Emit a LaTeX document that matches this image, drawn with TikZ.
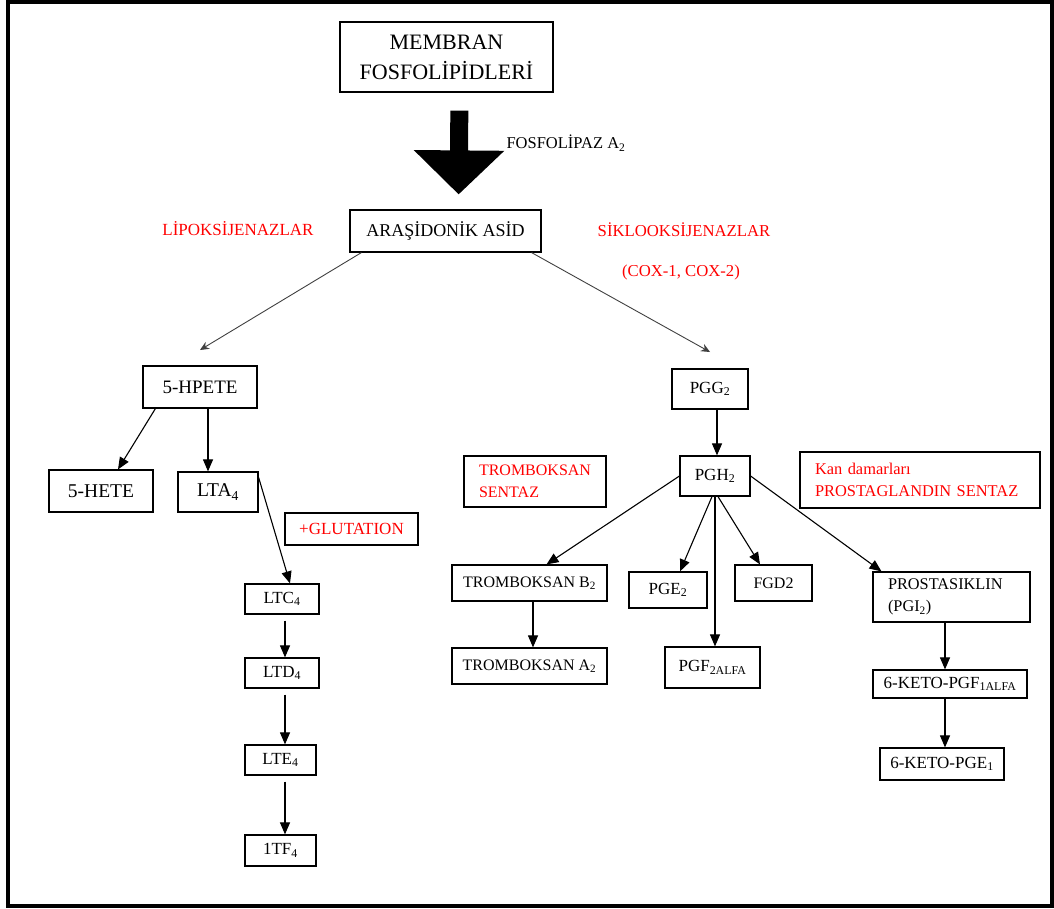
\documentclass[tikz,border=0pt]{standalone}
\usepackage{fontspec}
\setmainfont{Liberation Serif}
\usepackage{tikz}
\usetikzlibrary{arrows.meta}

\tikzset{
    box/.style={draw, line width=1.2pt, rectangle, inner sep=2pt, align=center},
    redbox/.style={box, text=red, align=left, inner xsep=15pt},
    redtext/.style={text=red, inner sep=0pt},
    path/.style={line width=1.1pt, -{Triangle[width=10pt,length=12pt]}},
    thinpath/.style={line width=0.9pt, draw=black!75, -{Stealth[width=8pt,length=9pt]}}
}

\newcommand{\fs}[2]{\fontsize{#1}{#2}\selectfont}

\begin{document}
\begin{tikzpicture}[x=1pt, y=-1pt]
\useasboundingbox (0,0) rectangle (1054,908);
\draw[line width=4pt] (8,2) rectangle (1052,906);

\node[box, minimum width=213pt, minimum height=70pt, font=\fs{22}{30}] (mem) at (446.5,57) {MEMBRAN\\FOSFOLİPİDLERİ};
\node[box, minimum width=191pt, minimum height=42pt, font=\fs{18}{22}] (ara) at (445.5,231) {ARAŞİDONİK ASİD};
\node[font=\fs{16.5}{20}, inner sep=0pt] (pla) at (566,143) {FOSFOLİPAZ A\textsubscript{2}};
\node[redtext, font=\fs{17}{20}] (lipo) at (238,229) {LİPOKSİJENAZLAR};
\node[redtext, font=\fs{16.7}{20}] (siklo) at (684,230) {SİKLOOKSİJENAZLAR};
\node[redtext, font=\fs{16.7}{20}] (cox) at (681,272) {(COX-1, COX-2)};

\draw[line width=18pt, -{Triangle[width=88pt,length=44pt]}, shorten <=18pt, shorten >=15pt] ([xshift=13pt]mem.south) -- ([xshift=13pt]ara.north);

\coordinate (lend) at (200,350);
\coordinate (rend) at (710,352);
\draw[thinpath] ([xshift=12pt]ara.south west) -- (lend);
\draw[thinpath] ([xshift=-10pt]ara.south east) -- (rend);

\node[box, minimum width=114pt, minimum height=42pt, font=\fs{19}{22}] (hpete) at (200,387) {5-HPETE};
\node[box, minimum width=104pt, minimum height=42pt, font=\fs{19.5}{22}] (hete) at (101,491) {5-HETE};
\node[box, minimum width=80pt, minimum height=40pt, font=\fs{19.5}{22}] (lta) at (218,492) {LTA\textsubscript{4}};
\node[box, text=red, minimum width=133pt, minimum height=32pt, font=\fs{17}{20}] (glut) at (351.5,529) {+GLUTATION};
\node[box, minimum width=74pt, minimum height=30pt, font=\fs{17}{20}] (ltc) at (282,599) {LTC\textsubscript{4}};
\node[box, minimum width=74pt, minimum height=30pt, font=\fs{17}{20}] (ltd) at (282,673) {LTD\textsubscript{4}};
\node[box, minimum width=71pt, minimum height=30pt, font=\fs{17}{20}] (lte) at (280.5,760) {LTE\textsubscript{4}};
\node[box, minimum width=71pt, minimum height=31pt, font=\fs{17}{20}] (ltf) at (280.5,850.5) {1TF\textsubscript{4}};

\draw[path] ([xshift=13pt]hpete.south west) -- ([xshift=17pt]hete.north);
\draw[path] ([xshift=8pt]hpete.south) -- ([xshift=-10pt]lta.north);
\draw[path] ([yshift=-6pt]lta.north east) -- ([xshift=8pt]ltc.north);
\draw[path, shorten <=6pt] ([xshift=3pt]ltc.south) -- ([xshift=3pt]ltd.north);
\draw[path, shorten <=6pt] ([xshift=3pt]ltd.south) -- ([xshift=4.5pt]lte.north);
\draw[path, shorten <=6pt] ([xshift=4.5pt]lte.south) -- ([xshift=4.5pt]ltf.north);

\node[box, minimum width=76pt, minimum height=40pt, font=\fs{17}{20}] (pgg) at (710,389) {PGG\textsubscript{2}};
\node[box, minimum width=70pt, minimum height=40pt, font=\fs{17}{20}] (pgh) at (715,476) {PGH\textsubscript{2}};
\node[redbox, text width=112pt, minimum height=51pt, font=\fs{16}{22}] (tsent) at (535,481.5) {TROMBOKSAN\\SENTAZ};
\node[redbox, text width=210pt, minimum height=56pt, font=\fs{16.4}{22}] (psent) at (920,480) {Kan damarları\\PROSTAGLANDIN SENTAZ};

\node[box, minimum width=155pt, minimum height=36pt, font=\fs{16}{20}] (tb2) at (529.5,583) {TROMBOKSAN B\textsubscript{2}};
\node[box, minimum width=155pt, minimum height=36pt, font=\fs{16}{20}] (ta2) at (529.5,666) {TROMBOKSAN A\textsubscript{2}};
\node[box, minimum width=78pt, minimum height=36pt, font=\fs{17}{20}] (pge) at (668,590) {PGE\textsubscript{2}};
\node[box, minimum width=77pt, minimum height=36pt, font=\fs{16}{20}] (fgd) at (773.5,583) {FGD2};
\node[box, minimum width=95pt, minimum height=41pt, font=\fs{17}{20}] (pgf) at (712.5,667.5) {PGF\textsubscript{2ALFA}};
\node[box, text width=127pt, inner xsep=15pt, align=left, minimum height=50pt, font=\fs{16.3}{22}] (pros) at (951.5,597) {PROSTASIKLIN\\(PGI\textsubscript{2})};
\node[box, minimum width=154pt, minimum height=28pt, font=\fs{17}{20}] (keto1) at (950,684) {6-KETO-PGF\textsubscript{1ALFA}};
\node[box, minimum width=124pt, minimum height=32pt, font=\fs{17}{20}] (keto2) at (942,764) {6-KETO-PGE\textsubscript{1}};

\draw[path] ([xshift=7pt]pgg.south) -- ([xshift=2pt]pgh.north);
\draw[path] (pgh.west) -- ([xshift=17pt]tb2.north);
\draw[path] ([xshift=-3pt]pgh.south) -- ([xshift=12pt]pge.north);
\draw[path] (pgh.south) -- ([xshift=2.5pt]pgf.north);
\draw[path] ([xshift=3pt]pgh.south) -- ([xshift=-13.5pt]fgd.north);
\draw[path] (pgh.east) -- ([xshift=-70pt]pros.north);
\draw[path] ([xshift=3.5pt]tb2.south) -- ([xshift=3.5pt]ta2.north);
\draw[path] ([xshift=-6.5pt]pros.south) -- ([xshift=-5pt]keto1.north);
\draw[path] ([xshift=-5pt]keto1.south) -- ([xshift=3pt]keto2.north);

\end{tikzpicture}
\end{document}
